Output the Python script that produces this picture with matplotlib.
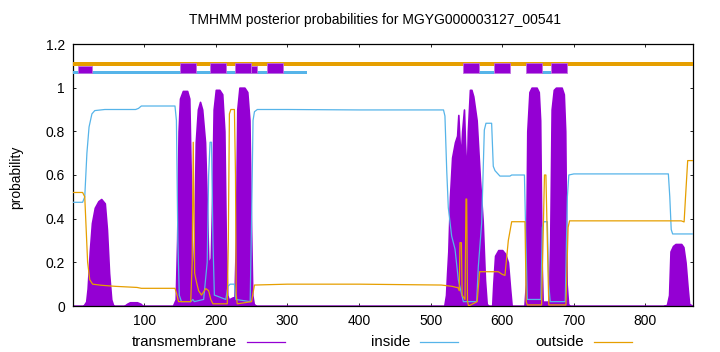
import matplotlib
matplotlib.use("Agg")
import matplotlib.pyplot as plt
from matplotlib.patches import Rectangle
from matplotlib.lines import Line2D

plt.rcParams['font.family'] = ['Liberation Sans', 'DejaVu Sans']

seq_len = 866
title = "TMHMM posterior probabilities for MGYG000003127_00541"

# posterior curves, (residue, probability)
tm_x = [1, 15, 19, 21, 24, 27, 31, 36, 40, 45, 48, 51, 54, 57, 72, 76, 80, 90, 95, 98,
        140, 144, 146, 148, 150, 154, 160, 163, 165, 167, 168.5, 170, 172, 175, 178, 181,
        185, 188, 189.5, 191, 193, 195, 197, 200, 205, 209, 212, 214, 216, 218, 224, 226,
        228, 230, 233, 240, 244, 247, 249, 251, 253, 256,
        519, 521.5, 523, 524.7, 527, 530, 534, 537, 538.7, 540, 542, 544, 546.6, 548,
        550.4, 552, 554.9, 557, 559.6, 564.3, 568.9, 572.7, 575.9, 578.3, 581,
        586, 587.5, 590, 594.5, 600, 604, 608, 611, 613.2,
        631, 633, 635, 638, 641, 648, 651, 653, 655, 656.5, 660, 665, 667, 669, 672, 675,
        683, 686, 688, 690, 692, 694,
        825, 830, 833, 835, 838.5, 842, 850, 853, 856, 859, 861, 866]
tm_y = [0, 0, 0.02, 0.08, 0.25, 0.38, 0.45, 0.48, 0.49, 0.47, 0.35, 0.15, 0.03, 0, 0, 0.01, 0.017, 0.017, 0.01, 0,
        0, 0.03, 0.3, 0.8, 0.95, 0.985, 0.985, 0.95, 0.6, 0.2, 0.08, 0.3, 0.75, 0.9, 0.935, 0.9,
        0.75, 0.4, 0.21, 0.2, 0.22, 0.5, 0.9, 0.99, 0.99, 0.97, 0.8, 0.3, 0.05, 0.03, 0.04, 0.03,
        0.3, 0.9, 1.0, 1.0, 0.98, 0.85, 0.4, 0.05, 0.01, 0,
        0, 0.05, 0.15, 0.25, 0.5, 0.68, 0.75, 0.78, 0.875, 0.78, 0.67, 0.8, 0.9, 0.75,
        0.58, 0.8, 0.99, 0.99, 0.96, 0.85, 0.58, 0.39, 0.12, 0.01, 0,
        0, 0.1, 0.23, 0.256, 0.256, 0.24, 0.2, 0.08, 0,
        0, 0.1, 0.8, 0.98, 1.0, 1.0, 0.98, 0.85, 0.2, 0.02, 0.02, 0.02, 0.3, 0.9, 0.99, 1.0,
        1.0, 0.97, 0.8, 0.1, 0.01, 0,
        0, 0.005, 0.05, 0.25, 0.275, 0.284, 0.284, 0.27, 0.2, 0.08, 0.01, 0]

in_x = [1, 14, 17, 20, 23, 27, 31, 45, 88, 92, 96, 143, 145, 147, 149, 152, 165, 168, 170,
        183, 188, 190, 192, 194, 196, 198, 214, 217, 220, 226, 228, 248, 250, 252, 254, 258,
        300, 400, 518, 520, 522.5, 524.7, 529.4, 534.1, 538.7, 545.7, 564.3, 566.6, 571.3,
        575, 577.3, 585.2, 587.5, 589.9, 596.8, 610.8, 613.2, 631, 633, 635, 654, 656, 658,
        663, 665, 667, 688, 691, 693, 700, 832, 834, 836, 838, 866]
in_y = [0.475, 0.475, 0.5, 0.7, 0.82, 0.88, 0.895, 0.9, 0.9, 0.905, 0.916, 0.916, 0.85, 0.3, 0.05, 0.02, 0.02, 0.03, 0.02,
        0.03, 0.2, 0.6, 0.75, 0.75, 0.3, 0.05, 0.03, 0.09, 0.1, 0.1, 0.03, 0.02, 0.4, 0.85, 0.89, 0.9,
        0.9, 0.898, 0.898, 0.87, 0.62, 0.45, 0.32, 0.26, 0.12, 0.02, 0.02, 0.18, 0.38,
        0.806, 0.837, 0.837, 0.64, 0.62, 0.595, 0.595, 0.6, 0.6, 0.3, 0.03, 0.03, 0.36, 0.386,
        0.386, 0.1, 0.02, 0.02, 0.5, 0.6, 0.605, 0.605, 0.5, 0.35, 0.33, 0.33]

out_x = [1, 14, 17, 19, 21, 24, 28, 40, 60, 90, 96, 143, 145, 148, 165, 167, 168.5, 170, 170.5,
         173, 176, 180, 186, 190, 193, 196, 216, 217.5, 219, 221, 226, 227.5, 228.5, 230, 250,
         252, 254, 300, 400, 515, 530, 536, 538, 540, 541, 543, 544, 548, 549.4, 550.4, 551.5,
         553, 565, 567, 568.5, 594.5, 600, 603.8, 608.5, 613.2, 631.8, 633.5, 635, 655, 657,
         659, 661, 663, 665, 689, 692, 694, 850, 854, 856, 859, 866]
out_y = [0.52, 0.52, 0.5, 0.35, 0.2, 0.12, 0.1, 0.095, 0.09, 0.085, 0.081, 0.081, 0.06, 0.02, 0.02, 0.2, 0.75, 0.3, 0.15,
         0.11, 0.07, 0.05, 0.08, 0.07, 0.03, 0.01, 0.01, 0.3, 0.88, 0.9, 0.9, 0.6, 0.05, 0.01, 0.02,
         0.06, 0.096, 0.1, 0.1, 0.096, 0.09, 0.085, 0.085, 0.07, 0.29, 0.29, 0.05, 0.03, 0.49, 0.49, 0.02,
         0, 0.02, 0.1, 0.157, 0.157, 0.145, 0.14, 0.3, 0.386, 0.386, 0.02, 0.005, 0.005, 0.3,
         0.6, 0.6, 0.3, 0.005, 0.005, 0.36, 0.39, 0.39, 0.385, 0.5, 0.666, 0.666]

# predicted topology bars at the top
tm_start = [150.0, 191.9, 226.8, 271.9, 544.8, 588.1, 633.2, 667.7]
tm_end = [172.3, 214.2, 249.2, 294.3, 567.6, 610.4, 655.5, 690.4]
small_start = [7.1, 249.2]
small_end = [26.7, 257.1]
in_start = [1, 567.6, 655.5]
in_end = [326.9, 588.1, 667.7]
out_start = [1]
out_end = [866]

purple = "#9400D3"
blue = "#56B4E9"
orange = "#E69F00"

fig = plt.figure(figsize=(7.2, 3.52), dpi=100)
ax = fig.add_axes([73.3 / 720, 46 / 352, 619.4 / 720, 262 / 352])

ax.fill_between(tm_x, 0, tm_y, facecolor=purple, edgecolor=purple, lw=1.2, zorder=2)
ax.plot(in_x, in_y, color=blue, lw=0.9, zorder=3)
ax.plot(out_x, out_y, color=orange, lw=0.9, zorder=3)

for s, e in zip(out_start, out_end):
    ax.add_patch(Rectangle((s, 1.101), e - s, 0.017, facecolor=orange, edgecolor="none", zorder=4))
for s, e in zip(in_start, in_end):
    ax.add_patch(Rectangle((s, 1.064), e - s, 0.014, facecolor=blue, edgecolor="none", zorder=4))
for s, e in zip(small_start, small_end):
    ax.add_patch(Rectangle((s, 1.066), e - s, 0.035, facecolor=purple, edgecolor="#c070e0", lw=0.6, zorder=5))
for s, e in zip(tm_start, tm_end):
    ax.add_patch(Rectangle((s, 1.066), e - s, 0.047, facecolor=purple, edgecolor="#c070e0", lw=0.6, zorder=5))

ax.set_xlim(1, seq_len)
ax.set_ylim(0, 1.2)
ax.set_xticks([100, 200, 300, 400, 500, 600, 700, 800])
ax.set_yticks([0, 0.2, 0.4, 0.6, 0.8, 1.0, 1.2])
ax.set_yticklabels(["0", "0.2", "0.4", "0.6", "0.8", "1", "1.2"])
ax.tick_params(direction="in", length=2.5, width=0.6, top=True, right=True,
               labelsize=10, pad=6)
for sp in ax.spines.values():
    sp.set_linewidth(0.9)

fig.text(375 / 720, 1 - 20 / 352, title, ha="center", va="center", fontsize=10)
fig.text(16 / 720, 175 / 352, "probability", rotation=90, ha="center", va="center", fontsize=10)

# key at the bottom
labels = ["transmembrane", "inside", "outside"]
colors = [purple, blue, orange]
text_end = [237, 410, 584]
ky = 1 - 342 / 352
for lab, c, xe in zip(labels, colors, text_end):
    fig.text(xe / 720, ky, lab, ha="right", va="center", fontsize=10.8)
    fig.add_artist(Line2D([(xe + 10) / 720, (xe + 48) / 720], [ky, ky], color=c, lw=0.9))

fig.savefig("out.png", dpi=100)
